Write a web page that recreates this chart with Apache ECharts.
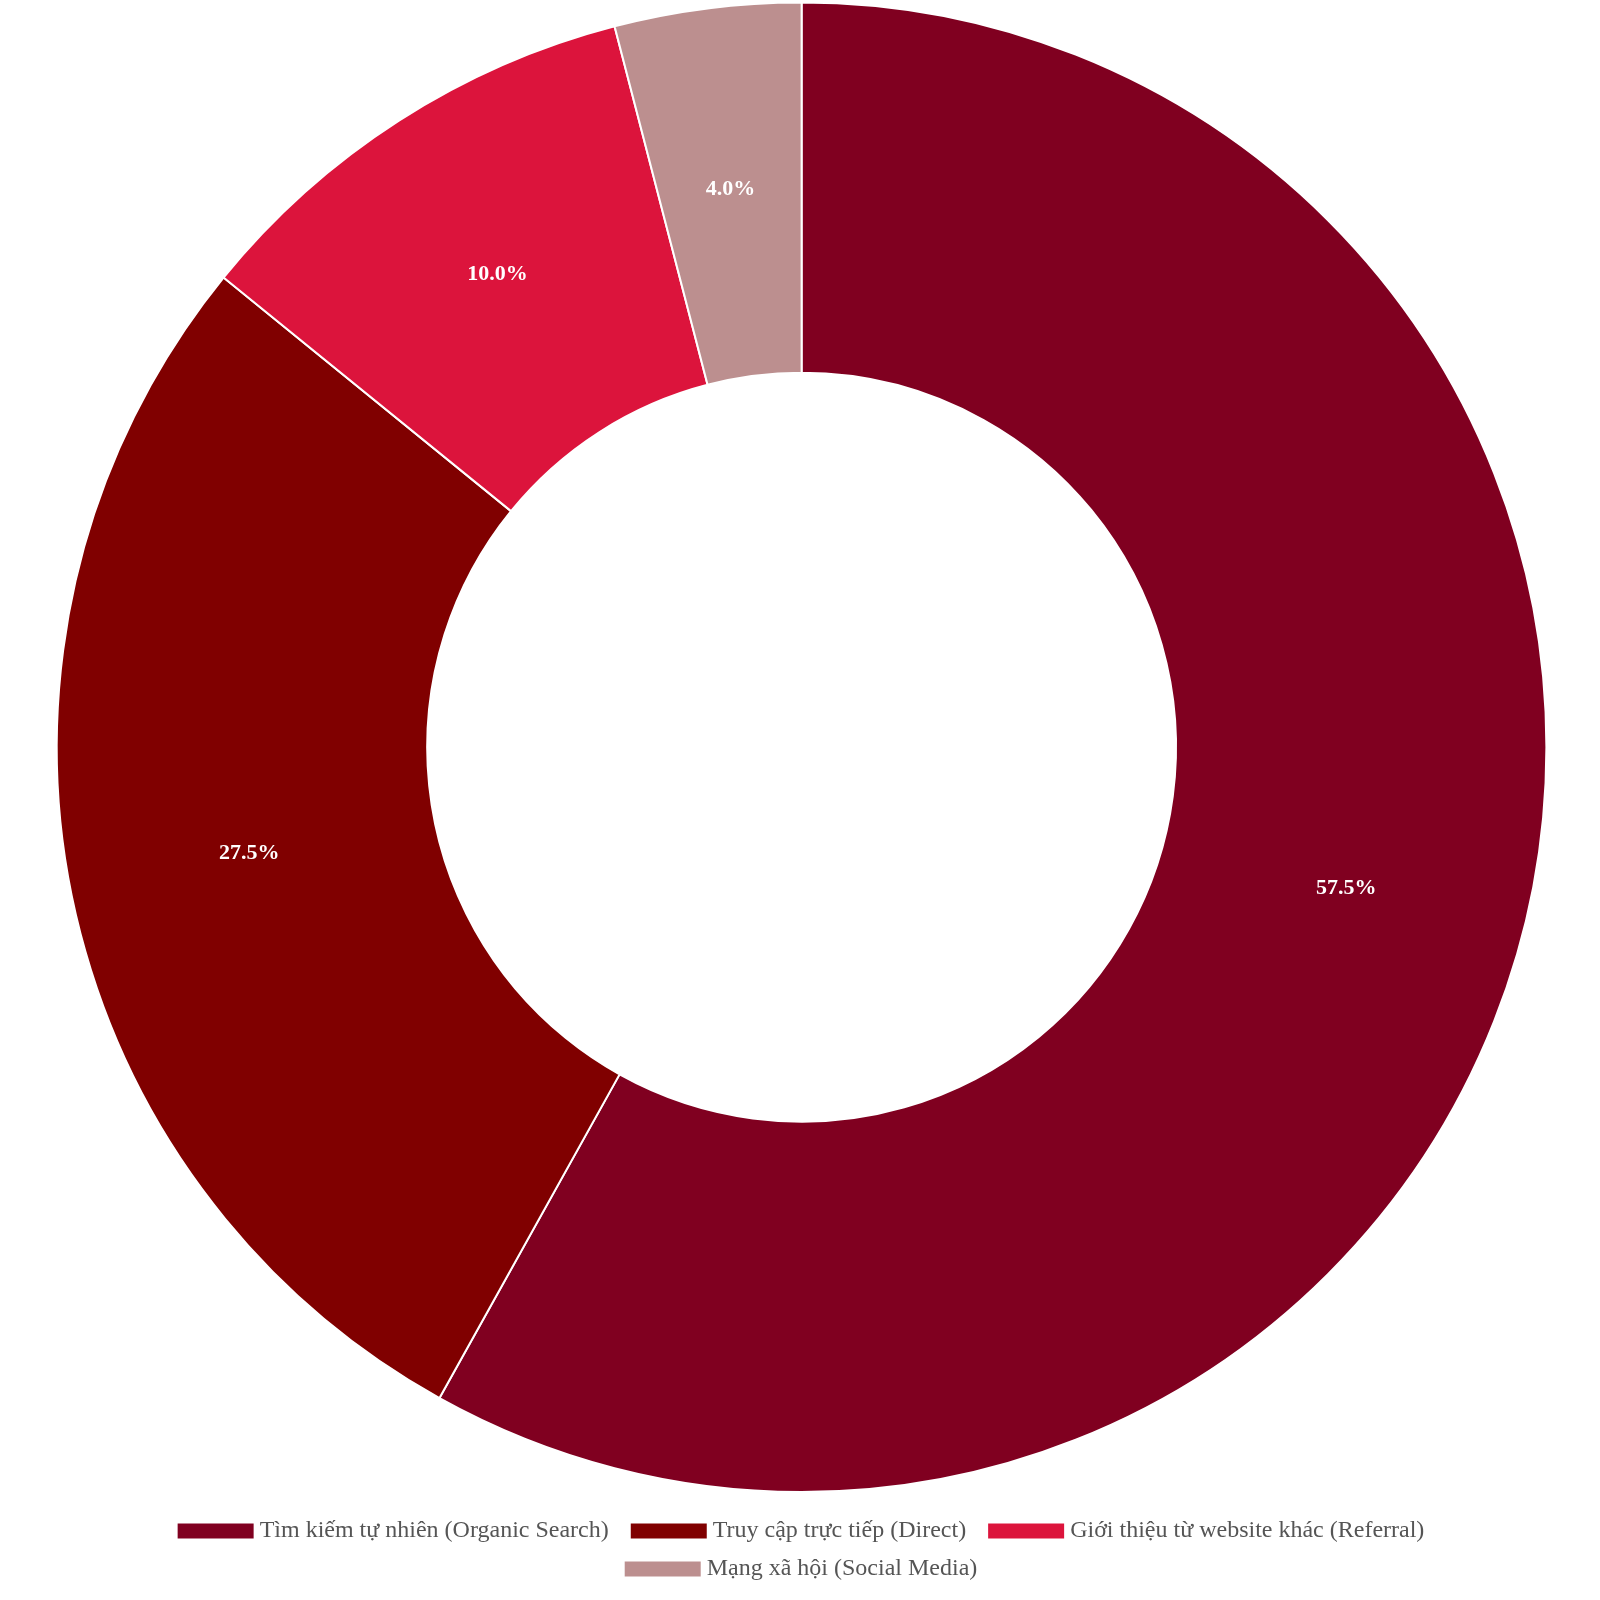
<!DOCTYPE html>
<html>
<head>
<meta charset="utf-8">
<script src="https://cdn.jsdelivr.net/npm/echarts@6/dist/echarts.min.js"></script>
<style>html,body{margin:0;padding:0;background:#fff}#chart{width:1600px;height:1600px}</style>
</head>
<body>
<div id="chart"></div>
<script>
var categories = ['Tìm kiếm tự nhiên (Organic Search)', 'Truy cập trực tiếp (Direct)', 'Giới thiệu từ website khác (Referral)', 'Mạng xã hội (Social Media)'];
var values = [57.5, 27.5, 10.0, 4.0];
var colors = ['#800020', '#800000', '#DC143C', '#BC8F8F'];

var chart = echarts.init(document.getElementById('chart'));
var data = [];
for (var i = 0; i < categories.length; i++) {
	data.push({ name: categories[i], value: values[i] });
}
// two legends so each row is centred like the reference
var legendBase = {
	left: 'center',
	itemWidth: 78,
	itemHeight: 17,
	itemGap: 20,
	icon: 'rect',
	textStyle: { fontSize: 24, color: '#555', fontFamily: 'Liberation Serif' }
};
chart.setOption({
	color: colors,
	textStyle: { fontFamily: 'Liberation Serif' },
	legend: [
		Object.assign({ top: 1514, data: categories.slice(0, 3) }, legendBase),
		Object.assign({ top: 1552, data: categories.slice(3) }, legendBase)
	],
	series: [{
		type: 'pie',
		center: ['50.1%', '46.7%'],
		radius: ['46.8%', '93.1%'],
		startAngle: 90,
		data: data,
		itemStyle: { borderColor: '#fff', borderWidth: 2 },
		label: {
			position: 'inside',
			formatter: function (p) { return p.value.toFixed(1) + '%'; },
			color: '#fff',
			fontWeight: 'bold',
			fontSize: 22,
			fontFamily: 'Liberation Serif'
		},
		labelLine: { show: false }
	}]
});
</script>
</body>
</html>
